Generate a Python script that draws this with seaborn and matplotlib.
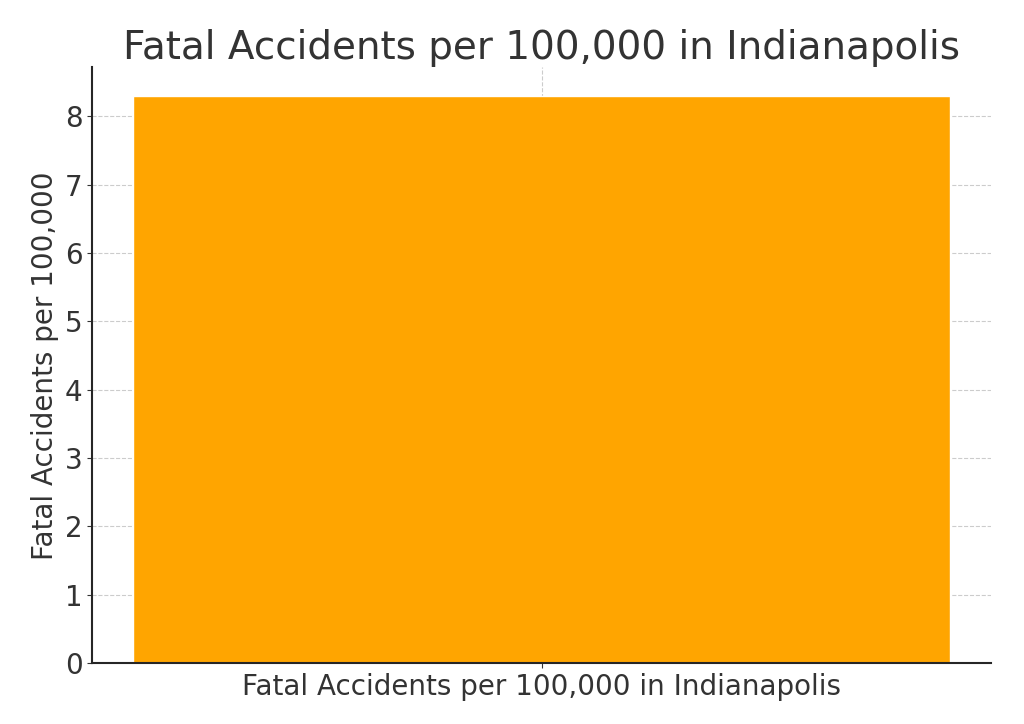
import pandas as pd
import matplotlib
matplotlib.use("Agg")
import matplotlib.pyplot as plt
import seaborn as sns

categories = ["Fatal Accidents per 100,000 in Indianapolis"]
values = [8.3]

df = pd.DataFrame({"Category": categories, "Value": values})

sns.set_style("ticks")
plt.rcParams['font.family'] = ['DejaVu Sans']

fig, ax = plt.subplots(figsize=(10.24, 7.24), dpi=100)
sns.barplot(data=df, x="Category", y="Value", color="orange", saturation=1, width=0.8, ax=ax)
ax.set_xlim(-0.44, 0.44)
ax.set_title("Fatal Accidents per 100,000 in Indianapolis", fontsize=28, color="#333333")
ax.set_ylabel("Fatal Accidents per 100,000", fontsize=20, color="#333333")
ax.set_xlabel("")
ax.tick_params(labelsize=20, colors="#333333")
ax.grid(True, linestyle="--", color="#cccccc", linewidth=0.8)
ax.set_axisbelow(True)
sns.despine(ax=ax)
for s in ["left", "bottom"]:
    ax.spines[s].set_linewidth(1.5)
fig.subplots_adjust(left=0.09, right=0.968, top=0.907, bottom=0.084)
fig.savefig("out.png")
